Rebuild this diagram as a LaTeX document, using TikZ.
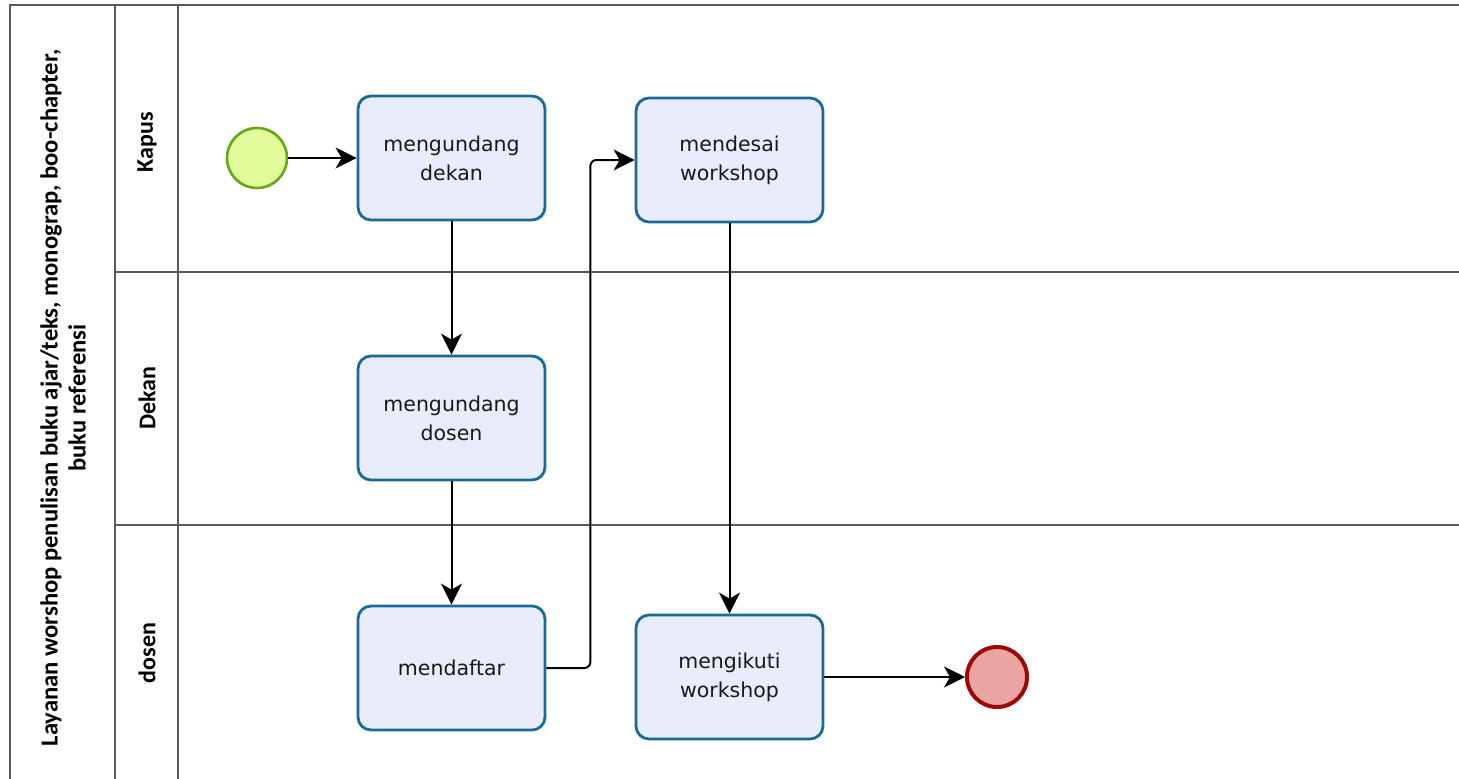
\documentclass[tikz,border=0pt]{standalone}
\usepackage{fontspec}
\setmainfont{DejaVu Sans}
\newfontfamily\lanefont{Carlito}
\usetikzlibrary{arrows.meta}
\definecolor{taskfill}{HTML}{E9EDFB}
\definecolor{taskline}{HTML}{186B99}
\definecolor{startfill}{HTML}{E3FB9A}
\definecolor{startline}{HTML}{64A81A}
\definecolor{endfill}{HTML}{EBA4A4}
\definecolor{endline}{HTML}{A00808}
\definecolor{poolline}{HTML}{5A5A5A}
\begin{document}
\begin{tikzpicture}[x=1pt,y=-1pt,
  taskbox/.style={draw=taskline, fill=taskfill, line width=2.8pt, rounded corners=13pt,
    minimum width=187pt, minimum height=124pt, align=center,
    font=\fontsize{20.5}{29}\selectfont, text=black!90},
  startev/.style={circle, draw=startline, fill=startfill, line width=2.6pt, minimum size=60pt, inner sep=0pt},
  endev/.style={circle, draw=endline, fill=endfill, line width=4pt, minimum size=60pt, inner sep=0pt},
  flow/.style={line width=2pt, -{Stealth[length=21pt, width=21pt, inset=6pt]}},
  poolln/.style={draw=poolline, line width=2.2pt},
  lanelbl/.style={rotate=90, font=\lanefont\bfseries\fontsize{24}{28}\selectfont},
]
\useasboundingbox (0,0) rectangle (1459,779);
% pool
\draw[poolln] (1475,5) -- (10,5) -- (10,795);
\draw[poolln] (115,5) -- (115,795);
\draw[poolln] (178,5) -- (178,795);
\draw[poolln] (115,272) -- (1475,272);
\draw[poolln] (115,525) -- (1475,525);
\node[rotate=90, align=center, font=\lanefont\bfseries\fontsize{24.6}{28}\selectfont] (pool) at (63,398)
  {Layanan worshop penulisan buku ajar/teks, monograp, boo-chapter,\\ buku referensi};
\node[lanelbl] (lk) at (147,142) {Kapus};
\node[lanelbl] (ld) at (147,398) {Dekan};
\node[lanelbl] (lo) at (147,653) {dosen};
% events and tasks
\node[startev] (start) at (257,158) {};
\node[taskbox] (t1) at (451.5,158) {mengundang\\dekan};
\node[taskbox] (t2) at (729.5,160) {mendesai\\workshop};
\node[taskbox] (t3) at (451.5,418) {mengundang\\dosen};
\node[taskbox] (t4) at (451.5,668) {mendaftar};
\node[taskbox] (t5) at (729.5,677) {mengikuti\\workshop};
\node[endev] (end) at (997,677) {};
% flows
\draw[flow] (start) -- (t1);
\draw[flow] (t1) -- (t3);
\draw[flow] (t3) -- (t4);
\draw[flow, rounded corners=6pt] (t4.east) -- ++(44,0) |- (t2.west);
\draw[flow] (t2) -- (t5);
\draw[flow] (t5) -- (end);
\end{tikzpicture}
\end{document}
